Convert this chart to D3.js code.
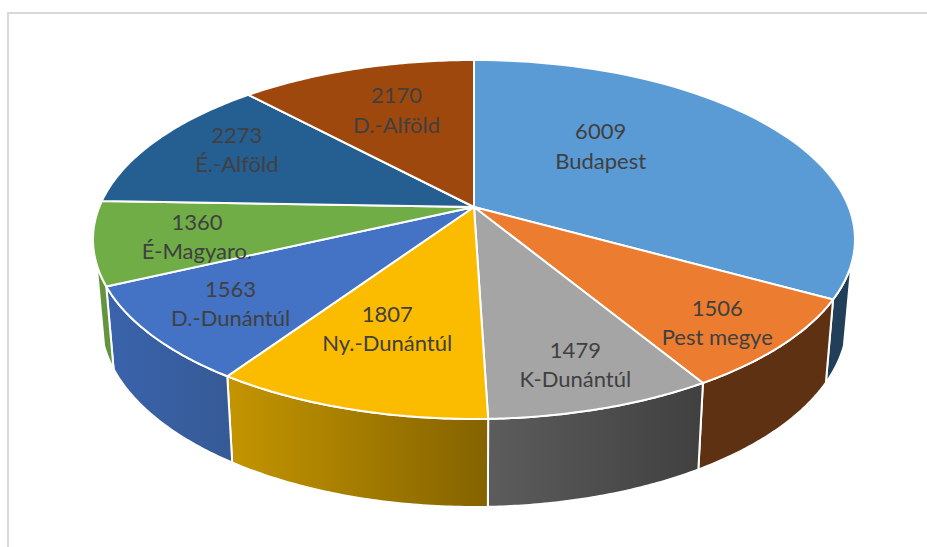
<!DOCTYPE html>
<html>
<head>
<meta charset="utf-8">
<script src="https://cdn.jsdelivr.net/npm/d3@7"></script>
<style>
html,body{margin:0;padding:0;background:#fff;overflow:hidden}
svg{display:block}
text{font-family:Lato,"Open Sans",sans-serif;font-size:22px;fill:#404040;text-anchor:middle}
</style>
</head>
<body>
<script>
const regions = ["Budapest","Pest megye","K-Dunántúl","Ny.-Dunántúl","D.-Dunántúl","É-Magyaro.","É.-Alföld","D.-Alföld"];
const values = [6009,1506,1479,1807,1563,1360,2273,2170];
const topColors = ["#5B9BD5","#EC7C30","#A5A5A5","#FBBC00","#4472C4","#70AD47","#255E91","#9E480E"];
const sideFrom = ["#223F5A","#5E3113","#5C5C5C","#C49500","#3A63AC","#62953D"];
const sideTo = ["#223F5A","#5E3113","#404040","#846300","#355A95","#62953D"];
const labelNudge = [[-100,1],[20,16],[10,14],[3,-22],[-9,4],[6,3],[5,-6],[14,11]];

const W = 927, H = 547;
const cx = 474, cy = 207, A = 374.7, B = 173.6, q = 0.181;
const sideVisible = [108 * Math.PI / 180, 252 * Math.PI / 180];

function project(theta, r) {
  const u = Math.sin(theta) * r, v = Math.cos(theta) * r, d = 1 + q * v;
  return [cx + A * u / d, cy - B * v / d];
}
function lower(p) {
  return [cx + (p[0] - cx) * 0.98, 507 + 1.04 * (p[1] - 419)];
}
function arcPoints(a, b) {
  return d3.range(0, 61).map(i => project(a + (b - a) * i / 60, 1));
}

const svg = d3.select("body").append("svg").attr("width", W).attr("height", H);
const defs = svg.append("defs");
const line = d3.line();

svg.append("path")
  .attr("d", line([[W + 2, 13], [8, 13], [8, H + 2]]))
  .attr("fill", "none").attr("stroke", "#D9D9D9").attr("stroke-width", 2);

const arcs = d3.pie().sort(null).value(d => d)(values);

// Outer wall
const walls = arcs.map((d, i) => ({
  i,
  a: Math.max(d.startAngle, sideVisible[0]),
  b: Math.min(d.endAngle, sideVisible[1])
})).filter(d => d.b > d.a);

walls.forEach(d => {
  const g = defs.append("linearGradient").attr("id", "wall" + d.i);
  g.append("stop").attr("offset", 0).attr("stop-color", sideFrom[d.i]);
  g.append("stop").attr("offset", 1).attr("stop-color", sideTo[d.i]);
});

svg.append("g").selectAll("path").data(walls).join("path")
  .attr("d", d => {
    const t = arcPoints(d.a, d.b);
    return line(t.concat(t.map(lower).reverse())) + "Z";
  })
  .attr("fill", d => `url(#wall${d.i})`)
  .attr("stroke", "#fff").attr("stroke-width", 2).attr("stroke-linejoin", "round");

// Top face
svg.append("g").selectAll("path").data(arcs).join("path")
  .attr("d", d => line([[cx, cy]].concat(arcPoints(d.startAngle, d.endAngle))) + "Z")
  .attr("fill", (d, i) => topColors[i])
  .attr("stroke", "#fff").attr("stroke-width", 2).attr("stroke-linejoin", "round");

// Labels
const labels = svg.append("g").selectAll("g").data(arcs).join("g")
  .attr("transform", (d, i) => {
    const p = project((d.startAngle + d.endAngle) / 2, 0.75);
    return `translate(${p[0] + labelNudge[i][0]},${p[1] + labelNudge[i][1]})`;
  });
labels.append("text").attr("y", -7).text(d => d.value);
labels.append("text").attr("y", 22.5).text((d, i) => regions[i]);
</script>
</body>
</html>
